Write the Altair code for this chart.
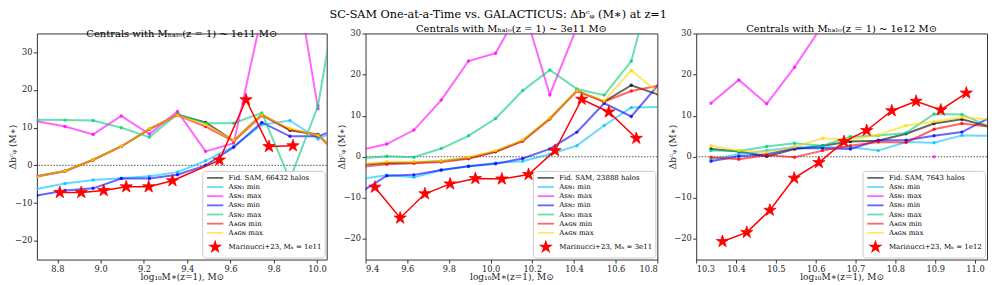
import math
import altair as alt
import pandas as pd

# ---------------- data ----------------
SERIES = ["fid", "sn1min", "sn1max", "sn2min", "sn2max", "agnmin", "agnmax"]
BASE_COLORS = ["#000000", "#00bfff", "#ff00ff", "#0000ff", "#00cc77", "#ff0000", "#ffd700"]
LEGEND_COLORS = ["#666666", "#66d9ff", "#ff66ff", "#6666ff", "#66e0ad", "#ff6666", "#ffe766", "#ff0000"]
SERIES_LABELS = ["Aꜱɴ₁ min", "Aꜱɴ₁ max", "Aꜱɴ₂ min", "Aꜱɴ₂ max", "Aᴀɢɴ min", "Aᴀɢɴ max"]

# Panel 1: M_halo ~ 1e11
x1 = [8.705, 8.835, 8.965, 9.095, 9.225, 9.355, 9.485, 9.615, 9.745, 9.875, 10.005, 10.135]
fid1 = [-2.9, -1.5, 1.5, 5.0, 9.6, 13.4, 11.4, 6.5, 13.5, 9.3, 8.2, 0.5]
sn1min1 = [-6.3, -4.8, -3.9, -3.4, -2.9, -1.8, 1.2, 5.0, 10.8, 11.9, 7.0, 10.5]
sn1max1 = [11.7, 10.3, 8.2, 13.1, 8.3, 14.3, 3.7, 5.9, 40.0, 60.0, 15.0, None]
sn2min1 = [-8.0, -6.7, -6.1, -3.5, -3.5, -2.5, 0.0, 4.8, 11.4, 7.7, 7.7, 10.5]
sn2max1 = [12.1, 12.0, 11.9, 10.0, 7.5, 13.6, 11.2, 11.2, 13.9, -3.8, 15.8, 60.0]
agnmin1 = [-3.0, -1.6, 1.4, 5.0, 9.6, 13.3, 10.3, 6.4, 13.2, 9.5, 8.0, 0.5]
agnmax1 = [-3.0, -1.5, 1.5, 5.0, 9.7, 13.3, 10.8, 6.6, 13.4, 9.8, 8.0, 0.8]
star_x1 = [8.811, 8.910, 9.014, 9.118, 9.222, 9.332, 9.549, 9.672, 9.778, 9.889]
star_y1 = [-7.2, -7.2, -6.7, -5.7, -5.7, -4.1, 1.4, 17.4, 5.0, 5.2]

# Panel 2: M_halo ~ 3e11
x2 = [9.371, 9.502, 9.632, 9.763, 9.894, 10.024, 10.154, 10.284, 10.414, 10.545, 10.675, 10.805]
fid2 = [-2.0, -1.5, -1.4, -1.1, -0.3, 1.3, 3.9, 9.3, 16.1, 13.4, 17.4, 15.1]
sn1min2 = [-5.4, -4.5, -5.0, -3.3, -2.3, -1.5, -1.1, 0.6, 2.7, 7.6, 12.0, 12.1]
sn1max2 = [1.6, 3.1, 6.5, 13.8, 23.3, 25.2, 37.0, 15.1, 31.5, 45.0, 50.0, 55.0]
sn2min2 = [-8.8, -4.6, -4.4, -3.2, -2.3, -1.7, -0.4, 1.9, 6.0, 13.0, 9.8, 17.5]
sn2max2 = [-0.4, 0.15, -0.1, 2.0, 5.1, 9.3, 16.1, 21.1, 16.5, 15.0, 23.3, 48.0]
agnmin2 = [-2.5, -1.8, -1.6, -1.3, -0.5, 1.2, 3.8, 9.2, 16.0, 13.4, 16.0, 17.3]
agnmax2 = [-1.8, -1.2, -1.2, -1.0, -0.1, 1.5, 4.1, 9.4, 16.1, 13.6, 21.0, 15.6]
star_x2 = [9.445, 9.566, 9.685, 9.806, 9.927, 10.054, 10.182, 10.309, 10.437, 10.567, 10.699]
star_y2 = [-7.4, -14.9, -9.0, -6.6, -5.3, -5.4, -4.3, 1.5, 14.0, 10.9, 4.5]

# Panel 3: M_halo ~ 1e12
x3 = [10.337, 10.407, 10.477, 10.547, 10.617, 10.687, 10.757, 10.827, 10.897, 10.967, 11.037]
fid3 = [1.9, 1.3, 0.1, 1.9, 2.7, 3.7, 3.9, 5.6, 8.1, 9.1, 7.3]
sn1min3 = [-0.6, 0.6, 1.5, 2.3, 2.3, 2.3, 1.5, 3.6, 3.4, 5.2, 5.1]
sn1max3 = [13.0, 18.7, 12.9, 21.8, 32.0, None, None, None, 0.0, None, None]
sn2min3 = [-1.1, 0.1, 0.6, 2.1, 2.1, 1.9, 4.0, 4.0, 5.1, 6.0, 9.5]
sn2max3 = [1.5, 1.4, 2.5, 3.3, 2.7, 4.9, 5.2, 5.8, 10.4, 10.3, 7.3]
agnmin3 = [-0.1, -0.6, 0.4, -0.1, 1.5, 2.7, 3.6, 3.5, 6.7, 8.1, 7.3]
agnmax3 = [2.7, 1.5, 1.1, 2.4, 4.5, 4.2, 5.3, 7.6, 8.5, 9.6, 9.0]
star_x3 = [10.366, 10.427, 10.485, 10.546, 10.608, 10.671, 10.728, 10.791, 10.852, 10.914, 10.978]
star_y3 = [-20.6, -18.4, -13.0, -5.2, -1.4, 3.7, 6.4, 11.2, 13.5, 11.4, 15.5]

halos = ["66432", "23888", "7643"]
mhalo = ["1e11", "3e11", "1e12"]
x_ticks = [
    [8.8, 9.0, 9.2, 9.4, 9.6, 9.8, 10.0],
    [9.4, 9.6, 9.8, 10.0, 10.2, 10.4, 10.6, 10.8],
    [10.3, 10.4, 10.5, 10.6, 10.7, 10.8, 10.9, 11.0],
]
x_domains = [[8.705, 10.045], [9.4, 10.8], [10.3, 11.03]]
y_domains = [[-25, 35], [-25, 30], [-25, 30]]
y_ticks = [-20, -10, 0, 10, 20, 30]
widths = [291, 293, 292]

# ---------------- styles ----------------
FONT = "DejaVu Serif"
R_OUT, R_IN = 1.7, 0.65
pts = []
for k in range(10):
    r = R_OUT if k % 2 == 0 else R_IN
    a = math.pi * k / 5
    pts.append(f"{r * math.sin(a):.3f},{-r * math.cos(a):.3f}")
STAR = "M" + "L".join(pts) + "Z"
LINE_SHAPE = "M-3,0H3"
LEG_SIZE = 30


def panel(i, x, vals, sx, sy):
    rows = []
    for key, v in zip(SERIES, vals):
        seg = 0
        for xi, yi in zip(x, v):
            if yi is None:
                seg += 1
                continue
            rows.append({"x": xi, "y": yi, "series": key, "seg": seg})
    df = pd.DataFrame(rows)
    star_label = f"Marinucci+23, Mₕ = {mhalo[i]}"
    labels = [f"Fid. SAM, {halos[i]} halos"] + SERIES_LABELS + [star_label]
    sdf = pd.DataFrame({"x": sx, "y": sy, "label": star_label})

    xs = alt.Scale(domain=x_domains[i], nice=False, zero=False)
    ys = alt.Scale(domain=y_domains[i], nice=False, zero=False)
    xax = alt.Axis(values=x_ticks[i], format=".1f", title="log₁₀M∗(z=1), M⊙",
                   titleY=13.5, titleBaseline="top")
    yax = alt.Axis(values=y_ticks, format="d", title="Δbᶜᵩ (M∗)", titleX=-19)
    cscale = alt.Scale(domain=SERIES, range=BASE_COLORS)

    layers = [
        alt.Chart(pd.DataFrame({"y": [0]})).mark_rule(
            color="#555", strokeDash=[1.5, 1.5], strokeWidth=1
        ).encode(y=alt.Y("y:Q", scale=ys, axis=yax))
    ]
    for key in SERIES:
        d = df[df.series == key]
        layers.append(
            alt.Chart(d).mark_line(strokeWidth=2, opacity=0.6, clip=True).encode(
                x=alt.X("x:Q", scale=xs, axis=xax),
                y=alt.Y("y:Q", scale=ys, axis=yax),
                color=alt.Color("series:N", scale=cscale, legend=None),
                detail="seg:N",
            )
        )
        layers.append(
            alt.Chart(d).mark_circle(size=12, opacity=0.75, clip=True).encode(
                x=alt.X("x:Q", scale=xs, axis=xax),
                y=alt.Y("y:Q", scale=ys, axis=yax),
                color=alt.Color("series:N", scale=cscale, legend=None),
            )
        )
    layers.append(
        alt.Chart(sdf).mark_line(color="#ff0000", strokeWidth=1.5, clip=True).encode(
            x=alt.X("x:Q", scale=xs, axis=xax), y=alt.Y("y:Q", scale=ys, axis=yax)
        )
    )
    leg = alt.Legend(
        title=None, orient="bottom-right", offset=2, fillColor="white",
        strokeColor="#cccccc", padding=3, cornerRadius=3,
        labelFont=FONT, labelFontSize=7, labelLimit=300,
        symbolSize=LEG_SIZE, symbolStrokeWidth=1.8, symbolOffset=6, labelOffset=9.5,
        rowPadding=1.2,
    )
    layers.append(
        alt.Chart(sdf).mark_point(
            filled=True, size=58, opacity=1, strokeWidth=0.8, clip=True
        ).encode(
            x=alt.X("x:Q", scale=xs, axis=xax),
            y=alt.Y("y:Q", scale=ys, axis=yax),
            fill=alt.Fill("label:N", scale=alt.Scale(domain=labels, range=LEGEND_COLORS), legend=leg),
            stroke=alt.Stroke("label:N", scale=alt.Scale(domain=labels, range=LEGEND_COLORS), legend=leg),
            shape=alt.Shape("label:N", scale=alt.Scale(domain=labels, range=[LINE_SHAPE] * 7 + [STAR]), legend=leg),
        )
    )
    title = alt.TitleParams(
        f"Centrals with Mₕₐₗₒ(z = 1) ~  {mhalo[i]} M⊙",
        fontSize=10, font=FONT, fontWeight="normal", anchor="middle", offset=-6,
    )
    return alt.layer(*layers).properties(width=widths[i], height=227, title=title)


p1 = panel(0, x1, [fid1, sn1min1, sn1max1, sn2min1, sn2max1, agnmin1, agnmax1], star_x1, star_y1)
p2 = panel(1, x2, [fid2, sn1min2, sn1max2, sn2min2, sn2max2, agnmin2, agnmax2], star_x2, star_y2)
p3 = panel(2, x3, [fid3, sn1min3, sn1max3, sn2min3, sn2max3, agnmin3, agnmax3], star_x3, star_y3)

chart = (
    alt.hconcat(p1, p2, p3, spacing=9)
    .resolve_scale(x="independent", y="independent", fill="independent",
                   stroke="independent", shape="independent")
    .resolve_legend(fill="independent", stroke="independent", shape="independent")
    .properties(
        padding=0,
        title=alt.TitleParams(
            "SC-SAM One-at-a-Time vs. GALACTICUS: Δbᶜᵩ (M∗) at z=1",
            fontSize=11.3, font=FONT, fontWeight="normal", anchor="middle", offset=4,
        ),
    )
    .configure(font=FONT)
    .configure_view(stroke="#333333", strokeWidth=1)
    .configure_legend(symbolSize=LEG_SIZE, symbolStrokeWidth=1.8)
    .configure_axis(
        labelFont=FONT, labelFontSize=8.3, labelColor="#222222",
        titleFont=FONT, titleFontSize=9, titleFontWeight="normal", titleColor="#222222",
        tickSize=3.5, tickColor="#333333", domain=False, grid=False, labelPadding=1.5,
    )
)

chart.save("out.html", embed_options={"renderer": "svg", "actions": False})
